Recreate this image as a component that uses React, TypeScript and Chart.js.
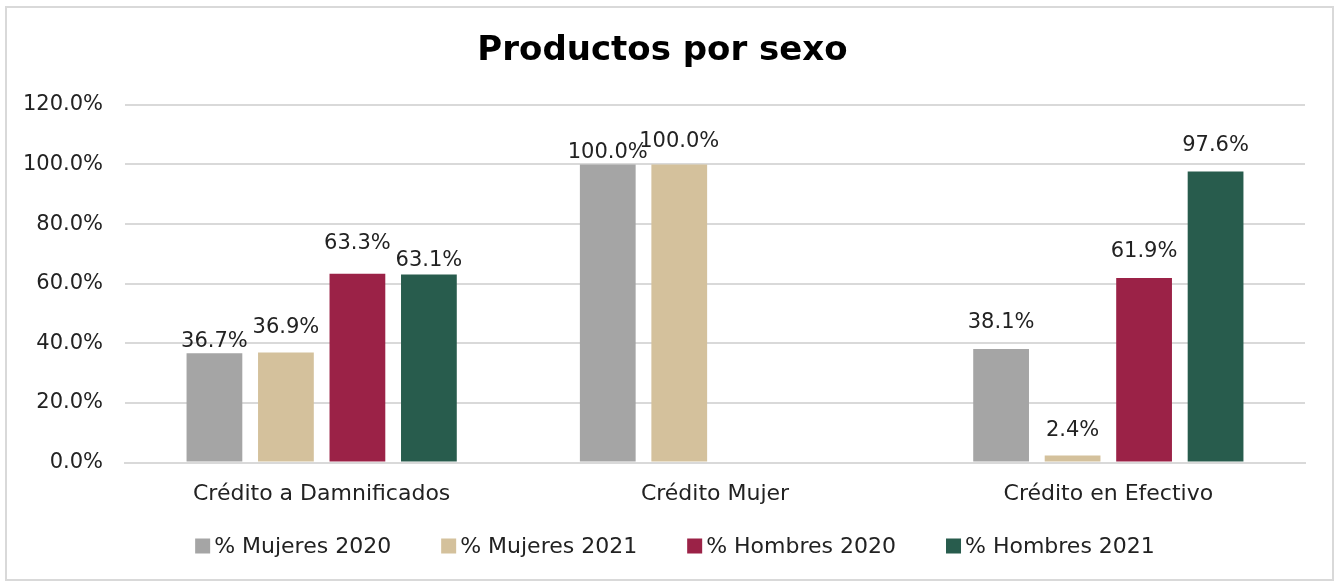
import React, { useEffect, useRef } from "react";
import { Chart, registerables } from "chart.js";

Chart.register(...registerables);

const categories = ["Crédito a Damnificados", "Crédito Mujer", "Crédito en Efectivo"];
const seriesNames = ["% Mujeres 2020", "% Mujeres 2021", "% Hombres 2020", "% Hombres 2021"];
const mujeres2020 = [36.7, 100.0, 38.1];
const mujeres2021 = [36.9, 100.0, 2.4];
const hombres2020 = [63.3, null, 61.9];
const hombres2021 = [63.1, null, 97.6];
const yTicks = [0, 20, 40, 60, 80, 100, 120];
const colors = ["#A5A5A5", "#D4C19C", "#9B2247", "#285C4D"];
// vertical distance (px) from bar top to label centre, per series/category
const labelGaps = [
  [12, 12, 26],
  [25, 23, 25],
  [30, 26, 26],
  [14, 26, 26],
];

const FONT = "'DejaVu Sans', sans-serif";
const TEXT = "#222222";

const labelPlugin = {
  id: "barLabels",
  afterDatasetsDraw(chart: any) {
    const ctx = chart.ctx;
    ctx.save();
    ctx.font = `21px ${FONT}`;
    ctx.fillStyle = TEXT;
    ctx.textAlign = "center";
    ctx.textBaseline = "middle";
    chart.data.datasets.forEach((ds: any, di: number) => {
      const meta = chart.getDatasetMeta(di);
      meta.data.forEach((el: any, i: number) => {
        const v = ds.data[i];
        if (v === null || v === undefined) return;
        ctx.fillText(v.toFixed(1) + "%", el.x, el.y - labelGaps[di][i]);
      });
    });
    ctx.restore();
  },
};

const legendPlugin = {
  id: "customLegend",
  afterDraw(chart: any) {
    const ctx = chart.ctx;
    ctx.save();
    ctx.font = `22px ${FONT}`;
    ctx.textBaseline = "middle";
    ctx.textAlign = "left";
    const box = 15;
    const boxGap = 4;
    const itemGap = 50;
    const items = chart.data.datasets.map((ds: any) => ({
      text: ds.label,
      color: ds.backgroundColor,
      w: box + boxGap + ctx.measureText(ds.label).width,
    }));
    const total = items.reduce((s: number, it: any) => s + it.w, 0) + itemGap * (items.length - 1);
    let x = 675 - total / 2;
    const y = 546;
    items.forEach((it: any) => {
      ctx.fillStyle = it.color;
      ctx.fillRect(x, y - box / 2, box, box);
      ctx.fillStyle = TEXT;
      ctx.fillText(it.text, x + box + boxGap, y + 1);
      x += it.w + itemGap;
    });
    ctx.restore();
  },
};

export default function App() {
  const ref = useRef<HTMLCanvasElement>(null);
  useEffect(() => {
    document.body.style.margin = "0";
    const seriesData = [mujeres2020, mujeres2021, hombres2020, hombres2021];
    const chart = new Chart(ref.current as HTMLCanvasElement, {
      type: "bar",
      data: {
        labels: categories,
        datasets: seriesNames.map((name, i) => ({
          label: name,
          data: seriesData[i] as any,
          backgroundColor: colors[i],
          borderWidth: 0,
          categoryPercentage: 0.727,
          barPercentage: 0.78,
        })),
      },
      options: {
        animation: false,
        responsive: false,
        maintainAspectRatio: false,
        layout: { padding: { left: 20, right: 33, top: 29, bottom: 58 } },
        plugins: {
          title: {
            display: true,
            text: "Productos por sexo",
            color: "#000000",
            font: { family: FONT, size: 34, weight: "bold" },
            padding: { top: 2, bottom: 33 },
          },
          legend: { display: false },
          tooltip: { enabled: false },
        },
        scales: {
          x: {
            grid: { display: false, drawTicks: false },
            border: { display: true, color: "#D9D9D9", width: 2 },
            ticks: { color: TEXT, font: { family: FONT, size: 22 }, padding: 18 },
          },
          y: {
            min: 0,
            max: 120,
            afterFit: (scale: any) => {
              scale.width = 105;
            },
            afterBuildTicks: (scale: any) => {
              scale.ticks = yTicks.map((v) => ({ value: v }));
            },
            grid: { color: "#D9D9D9", lineWidth: 2, drawTicks: false },
            border: { display: false },
            ticks: {
              color: TEXT,
              font: { family: FONT, size: 21 },
              padding: 22,
              callback: (v: any) => Number(v).toFixed(1) + "%",
            },
          },
        },
      },
      plugins: [labelPlugin, legendPlugin],
    });
    return () => chart.destroy();
  }, []);
  return (
    <div style={{ position: "relative", width: 1338, height: 583, background: "#fff" }}>
      <canvas ref={ref} width={1338} height={583} style={{ position: "absolute", left: 0, top: 0 }} />
      <div
        style={{
          position: "absolute",
          left: 5,
          top: 6,
          width: 1325,
          height: 571,
          border: "2px solid #D9D9D9",
          pointerEvents: "none",
        }}
      />
    </div>
  );
}
